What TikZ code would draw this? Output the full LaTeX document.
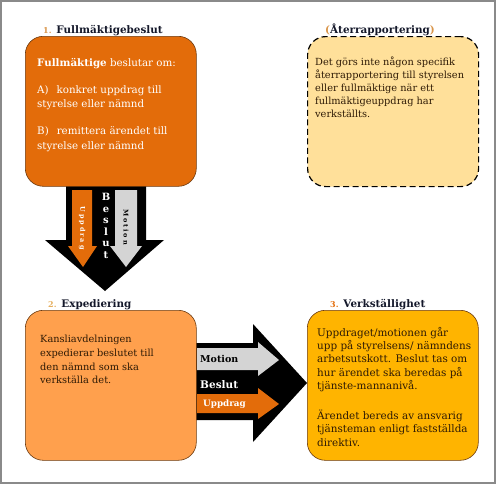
\documentclass[tikz,border=0pt]{standalone}
\usepackage{fontspec}
\setmainfont{DejaVu Serif}
\usetikzlibrary{positioning,calc}
\definecolor{fullmcolor}{HTML}{E36C0A}
\definecolor{expcolor}{HTML}{FFA04D}
\definecolor{verkcolor}{HTML}{FFB400}
\definecolor{atercolor}{HTML}{FFE09A}
\definecolor{motiongrey}{HTML}{D4D4D4}
\definecolor{boxline}{HTML}{6B3A10}
\definecolor{framegrey}{HTML}{8A8A8A}
\definecolor{darktext}{HTML}{2E1A05}
\definecolor{titletext}{HTML}{14182A}
\definecolor{numone}{HTML}{D9954A}
\definecolor{numtwo}{HTML}{E5AE5C}
\definecolor{numthree}{HTML}{E36C0A}
\newcommand{\stepnum}[2]{{\fontsize{8}{8}\selectfont\color{#1}#2.}}

\begin{document}
\begin{tikzpicture}[x=1pt, y=-1pt, every node/.style={inner sep=0pt},
                    box/.style={draw=boxline, line width=0.6pt, rounded corners=18pt,
                                minimum width=171pt, minimum height=150pt, anchor=north west},
                    title/.style={anchor=base west, font=\fontsize{10.4}{12}\selectfont\bfseries, text=titletext},
                    body/.style={anchor=north west, align=left, font=\fontsize{10.3}{14.5}\selectfont},
                    tag/.style={font=\fontsize{8.8}{9}\selectfont\bfseries},
                    vtag/.style={rotate=-90, font=\fontsize{6.5}{7}\selectfont\bfseries\addfontfeature{LetterSpace=30}}]
  \useasboundingbox (0,0) rectangle (497,485);
  \draw[framegrey, line width=1.2pt] (1,1) rectangle (495,483);

  % arrows
  \fill[black] (66,186) -- (146,186) -- (146,240) -- (164,240) -- (105,291) -- (45,240) -- (66,240) -- cycle;
  \fill[fullmcolor] (72,190) -- (92,190) -- (92,246) -- (97,246) -- (83,267) -- (68,246) -- (72,246) -- cycle;
  \fill[motiongrey] (115,190) -- (137,190) -- (137,246) -- (142,246) -- (126,267) -- (110,246) -- (115,246) -- cycle;
  \fill[black] (196,343) -- (253,343) -- (253,324) -- (307,383) -- (253,442) -- (253,420) -- (196,420) -- cycle;
  \fill[motiongrey] (197,348) -- (258,348) -- (258,342) -- (279,360) -- (258,376) -- (258,370) -- (197,370) -- cycle;
  \fill[fullmcolor] (197,394) -- (258,394) -- (258,388) -- (279,404) -- (258,419) -- (258,413) -- (197,413) -- cycle;

  % boxes
  \node[box, fill=fullmcolor] (fullm) at (25,36) {};
  \node[box, fill=atercolor, draw=black, line width=1.2pt, dash pattern=on 6pt off 3.5pt] (ater) at (307,36) {};
  \node[box, fill=expcolor] (exped) at (25,310) {};
  \node[box, fill=verkcolor] (verk) at (307,310) {};

  \node[title] (t1) at ($(fullm.north west)+(18,-3)$) {\stepnum{numone}{1} Fullmäktigebeslut};
  \node[title] (t4) at ($(ater.north west)+(18,-3)$) {{\color{numone}(}Återrapportering{\color{numone})}};
  \node[title] (t2) at ($(exped.north west)+(23,-3)$) {\stepnum{numtwo}{2} Expediering};
  \node[title] (t3) at ($(verk.north west)+(23,-3)$) {\stepnum{numthree}{3} Verkställighet};

  \node[body, text=white] (b1) at ($(fullm.north west)+(12,22)$)
    {\textbf{Fullmäktige} beslutar om:\\[12.5pt]
     A)\hspace{8pt}konkret uppdrag till\\ styrelse eller nämnd\\[12.5pt]
     B)\hspace{8pt}remittera ärendet till\\ styrelse eller nämnd};
  \node[body, text=darktext, font=\fontsize{9.8}{12.8}\selectfont] (b4) at ($(ater.north west)+(8,21)$)
    {Det görs inte någon specifik\\ återrapportering till styrelsen\\ eller fullmäktige när ett\\
     fullmäktigeuppdrag har\\ verkställts.};
  \node[body, text=darktext, font=\fontsize{9.8}{13.7}\selectfont] (b2) at ($(exped.north west)+(15,25)$)
    {Kanslia{}vdelningen\\ expedierar beslutet till\\ den nämnd som ska\\ verkställa det.};
  \node[body, text=darktext, font=\fontsize{10.4}{13.3}\selectfont] (b3) at ($(verk.north west)+(10,17)$)
    {Uppdraget/motionen går\\ upp på styrelsens/ nämndens\\ arbetsutskott. Beslut tas om\\
     hur ärendet ska beredas på\\ tjänste-mannanivå.\\[16.7pt]
     Ärendet bereds av ansvarig\\ tjänsteman enligt fastställda\\ direktiv.};

  % labels on the arrows
  \node[vtag, text=white] (u1) at (82,228) {Uppdrag};
  \node[vtag, text=black] (m1) at (126,227) {Motion};
  \node[align=center, text=white, font=\fontsize{10}{11.6}\selectfont\bfseries] (s1) at (106,226) {B\\e\\s\\l\\u\\t};
  \node[tag, text=black, anchor=west, font=\fontsize{9.5}{10}\selectfont\bfseries] (m2) at (200,359) {Motion};
  \node[tag, text=white, anchor=west, font=\fontsize{10.5}{12}\selectfont\bfseries] (s2) at (200,385) {Beslut};
  \node[tag, text=white, anchor=west] (u2) at (203,404) {Uppdrag};
\end{tikzpicture}
\end{document}
